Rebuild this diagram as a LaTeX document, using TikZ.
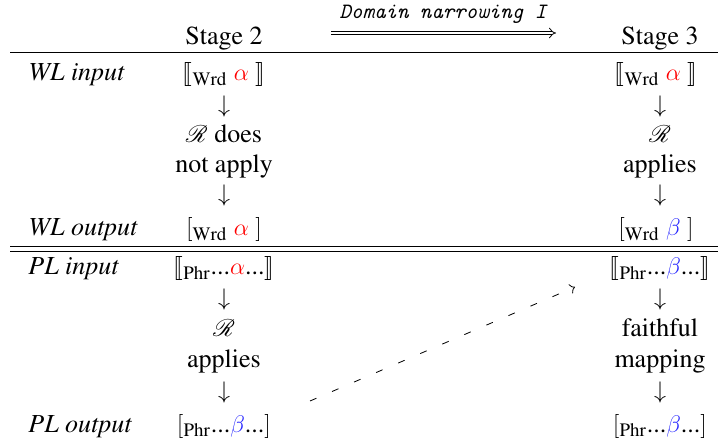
\documentclass[tikz,border=0pt]{standalone}
\usepackage[T1]{fontenc}
\usepackage{times}
\usepackage{stmaryrd}
\usepackage{mathrsfs}
\usetikzlibrary{arrows.meta}
\definecolor{bblue}{RGB}{40,40,255}
\newcommand{\wrd}{\mbox{\fontsize{9.5}{10}\selectfont Wrd}}
\newcommand{\phr}{\mbox{\fontsize{9.5}{10}\selectfont Phr}}
\begin{document}
\begin{tikzpicture}[x=0.5pt,y=-0.5pt,
  every node/.style={font=\fontsize{13}{15}\selectfont, inner sep=0pt},
  lbl/.style={anchor=base west, font=\itshape\fontsize{13}{15}\selectfont},
  cell/.style={anchor=base},
  darr/.style={anchor=center}]
\useasboundingbox (0,0) rectangle (718,443);
% header
\node[cell] (s2) at (224,45) {Stage 2};
\node[cell] (s3) at (660,45) {Stage 3};
\node[cell, font=\fontencoding{OT1}\fontfamily{cmtt}\fontshape{it}\fontsize{11}{13}\selectfont] (dn) at (443,19) {Domain narrowing I};
% WL rows
\node[lbl] (wli) at (28,81) {WL input};
\node[cell] (a1) at (224,81) {$\llbracket_{\wrd}\ \textcolor{red}{\alpha}\ \rrbracket$};
\node[darr] (a2) at (224,107) {$\downarrow$};
\node[cell] (a3) at (224,143) {$\mathscr{R}$ does};
\node[cell] (a4) at (224,173) {not apply};
\node[darr] (a5) at (224,196) {$\downarrow$};
\node[lbl] (wlo) at (28,236) {WL output};
\node[cell] (a6) at (224,236) {$[_{\wrd}\ \textcolor{red}{\alpha}\ ]$};
\node[cell] (b1) at (656,81) {$\llbracket_{\wrd}\ \textcolor{red}{\alpha}\ \rrbracket$};
\node[darr] (b2) at (660,107) {$\downarrow$};
\node[cell] (b3) at (660,143) {$\mathscr{R}$};
\node[cell] (b4) at (660,173) {applies};
\node[darr] (b5) at (660,196) {$\downarrow$};
\node[cell] (b6) at (656,236) {$[_{\wrd}\ \textcolor{bblue}{\beta}\ ]$};
% PL rows
\node[lbl] (pli) at (28,275) {PL input};
\node[cell] (c1) at (224,275) {$\llbracket_{\phr}\mbox{...}\textcolor{red}{\alpha}\mbox{...}\rrbracket$};
\node[darr] (c2) at (224,300) {$\downarrow$};
\node[cell] (c3) at (224,337) {$\mathscr{R}$};
\node[cell] (c4) at (224,368) {applies};
\node[darr] (c5) at (224,393) {$\downarrow$};
\node[lbl] (plo) at (28,432) {PL output};
\node[cell] (c6) at (224,432) {$[_{\phr}\mbox{...}\textcolor{bblue}{\beta}\mbox{...}]$};
\node[cell] (d1) at (660,275) {$\llbracket_{\phr}\mbox{...}\textcolor{bblue}{\beta}\mbox{...}\rrbracket$};
\node[darr] (d2) at (660,300) {$\downarrow$};
\node[cell] (d3) at (660,337) {faithful};
\node[cell] (d4) at (660,368) {mapping};
\node[darr] (d5) at (660,393) {$\downarrow$};
\node[cell] (d6) at (660,432) {$[_{\phr}\mbox{...}\textcolor{bblue}{\beta}\mbox{...}]$};
% rules
\draw (10,52) -- (718,52);
\draw (10,246) -- (718,246);
\draw (10,251) -- (718,251);
% dashed
\coordinate (ea) at (310,401);
\coordinate (eb) at (575,287);
\draw[dash pattern=on 3.5pt off 8.5pt, -{To[length=2.5pt,width=5pt]}] (ea) -- (eb);
% top arrow
\coordinate (da) at (331,33);
\coordinate (db) at (556,33);
\draw[double, double distance=1.4pt, -{Implies}] (da) -- (db);
\end{tikzpicture}
\end{document}
